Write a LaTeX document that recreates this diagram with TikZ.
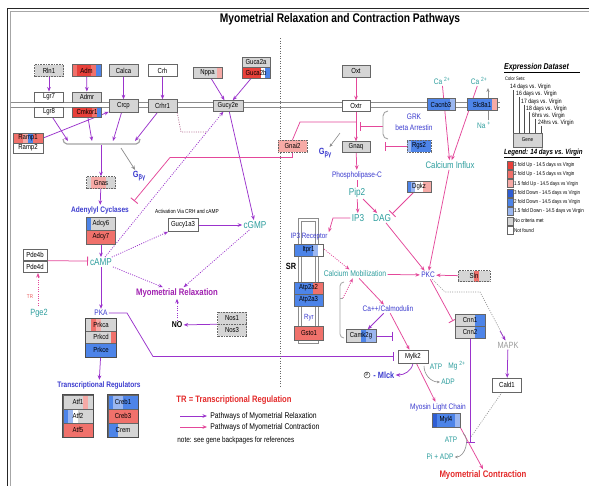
\documentclass[tikz,border=0pt]{standalone}
\usepackage{fontspec}
\setmainfont{Liberation Sans}[FakeStretch=0.82]
\usetikzlibrary{arrows.meta,calc}
\newcommand\fsz[1]{\fontsize{#1}{#1}\selectfont}
\pgfdeclarelayer{bg}
\pgfsetlayers{bg,main}
% pathway colours
\definecolor{cP}{HTML}{9B33CC}
\definecolor{cK}{HTML}{E4489A}
\definecolor{cT}{HTML}{2E9E9E}
\definecolor{cB}{HTML}{3C3CCF}
\definecolor{cR}{HTML}{E42A2A}
\definecolor{cV}{HTML}{A020B0}
\definecolor{Ln}{HTML}{8C8C8C}
% expression colours
\definecolor{Ra}{HTML}{E8403A}
\definecolor{Rb}{HTML}{F0716B}
\definecolor{Rc}{HTML}{F6AAA6}
\definecolor{Ba}{HTML}{2F5ED4}
\definecolor{Bb}{HTML}{4D84E8}
\definecolor{Bc}{HTML}{9BB7F0}
\definecolor{Gy}{HTML}{D5D5D5}
\tikzset{
  gene/.style={draw=black!60, line width=0.45pt, fill=white, minimum width=29pt,
    minimum height=12pt, inner sep=0pt, font=\fsz{7.3}},
  ncm/.style={fill=Gy},
  dotb/.style={dash pattern=on 0.9pt off 0.7pt},
  stripes/.style n args={6}{path picture={
      \path (path picture bounding box.south west) coordinate (pA)
            (path picture bounding box.north east) coordinate (pB);
      \foreach \c [count=\i from 0] in {#1,#2,#3,#4,#5,#6}
        \fill[\c] ($(pA)!\i/6!(pA-|pB)$) rectangle ($(pA|-pB)!{(\i+1)/6}!(pB)$);
  }},
  lab/.style={inner sep=1.2pt},
  tip/.style={-{Stealth[length=4.5pt,width=3.6pt]}},
  rel/.style={draw=cP, line width=0.75pt, tip},
  con/.style={draw=cK, line width=0.75pt, tip},
  tee/.style={-{Bar[width=9pt,line width=0.9pt]}},
  dotl/.style={dash pattern=on 1pt off 1.3pt},
  grp/.style={draw=black!70, line width=0.6pt},
  swatch/.style={draw=black!60, line width=0.4pt, minimum width=6pt, minimum height=8pt, inner sep=0pt},
  keytext/.style={inner sep=0pt, anchor=west, font=\fsz{5.5}},
}
\begin{document}
\begin{tikzpicture}[x=1pt,y=-1pt]
\useasboundingbox (0,0) rectangle (589,485);
\begin{pgfonlayer}{bg}
\fill[white] (0,0) rectangle (589,485);
\end{pgfonlayer}

% frame
\draw[black!85, line width=1.4pt] (7.5,486) -- (7.5,8.5) -- (590,8.5);
\draw[black!35, line width=0.6pt] (10.5,486) -- (10.5,11) -- (590,11);

\node[font=\fsz{12.5}\bfseries] (title) at (340,19) {Myometrial Relaxation and Contraction Pathways};

% membrane and divider
\draw[Ln, line width=0.8pt] (10.5,102.5) -- (500,102.5);
\draw[Ln, line width=0.8pt] (10.5,107.5) -- (500,107.5);
\draw[black!60, line width=0.6pt, dash pattern=on 1pt off 1.5pt] (280,38) -- (280,388);

% receptor bracket
\draw[Ln!80, line width=1.2pt] (63,139) to[out=-90,in=180] (67,144) -- (136,144) to[out=0,in=-90] (140,139);
\coordinate (k1) at (68,141);
\coordinate (k2) at (92,141);
\coordinate (k3) at (113,141);
\coordinate (k4) at (135,141);
\coordinate (kc) at (101,145);
\coordinate (kg) at (121,148);

% sarcoplasmic reticulum
\draw[Ln, line width=0.7pt, fill=white] (298,218) rectangle (318,343);
\draw[Ln, line width=0.5pt] (301,221) rectangle (315,340);

% braces
\draw[Ln!80, line width=0.9pt] (388,111) to[out=180,in=90] (383,116) -- (383,134) to[out=-90,in=180] (388,139);
\draw[Ln!80, line width=0.8pt] (344,282) to[out=180,in=90] (340,286) -- (340,334) to[out=-90,in=180] (344,338);
\draw[Ln!80, line width=0.8pt] (340,298) -- (343,298);
\coordinate (br) at (343,298);

% ---------- genes ----------
\node[gene,ncm,dotb] (Rln1) at (49,70.5) {Rln1};
\node[gene,stripes={Rb}{Ra}{Ra}{Ra}{Rb}{Bb}] (Adm) at (86.5,70.5) {Adm};
\node[gene,ncm] (Calca) at (123.5,70.5) {Calca};
\node[gene] (Crh) at (162.5,70.5) {Crh};
\node[gene,minimum height=10.5pt] (Lgr7) at (49,97) {Lgr7};
\node[gene,minimum height=10.5pt] (Lgr8) at (49,112) {Lgr8};
\node[gene,ncm,minimum height=10.5pt] (Admr) at (87,97) {Admr};
\node[gene,minimum height=10.5pt,stripes={Ra}{Ra}{Ra}{Ra}{Rb}{Bb}] (Cmkor1) at (87,112) {Cmkor1};
\node[gene,ncm,minimum height=13pt] (Crcp) at (123.5,106) {Crcp};
\node[gene,ncm,minimum height=13pt] (Crhr1) at (162.5,106) {Crhr1};
\node[gene,minimum width=30pt,minimum height=10pt,stripes={Rb}{Rb}{Rc}{Bb}{Rb}{Rb}] (Ramp1) at (28,138) {Ramp1};
\node[gene,minimum width=30pt,minimum height=10pt] (Ramp2) at (28,148) {Ramp2};
\node[gene,minimum height=11pt,stripes={Gy}{Gy}{Gy}{Gy}{Gy}{Rc}] (Nppa) at (207.5,72.5) {Nppa};
\node[gene,ncm,minimum width=28pt,minimum height=10.5pt] (Guca2a) at (256,62) {Guca2a};
\node[gene,minimum width=28pt,minimum height=10.5pt,stripes={Ra}{Ra}{Ra}{Ra}{white}{Bb}] (Guca2b) at (256,72.5) {Guca2b};
\node[gene,ncm,minimum width=30pt,minimum height=11pt] (Gucy2e) at (228,106) {Gucy2e};
\node[gene,ncm,minimum width=28pt] (Oxt) at (356,71) {Oxt};
\node[gene,minimum width=28pt,minimum height=11pt] (Oxtr) at (356,106) {Oxtr};
\node[gene,ncm,minimum width=28pt,minimum height=11pt] (Gnaq) at (356,147) {Gnaq};
\node[gene,dotb,fill=Rc] (Gnai2) at (292.5,146) {Gnai2};
\node[gene,minimum width=28pt,stripes={Bb}{Bb}{Bb}{Bb}{Bb}{Bc}] (Cacnb3) at (441,104.5) {Cacnb3};
\node[gene,minimum width=30pt,stripes={Bb}{Bb}{Bb}{Bb}{Bb}{Rc}] (Slc8a1) at (482,104.5) {Slc8a1};
\node[gene,dotb,minimum width=24pt,stripes={Bc}{Bb}{Bb}{Bb}{Bb}{Bb}] (Rgs2) at (419,146) {Rgs2};
\node[gene,minimum width=24pt,minimum height=11pt,stripes={Bb}{Bc}{white}{white}{Rc}{Rc}] (Dgkz) at (419,187) {Dgkz};
\node[gene,dotb,stripes={Gy}{Rc}{Rc}{Rc}{Gy}{Gy}] (Gnas) at (101,182.5) {Gnas};
\node[gene,minimum height=13pt,stripes={Bb}{Gy}{Gy}{Gy}{Gy}{Gy}] (Adcy6) at (101,223.5) {Adcy6};
\node[gene,minimum height=13.5pt,fill=Rb] (Adcy7) at (101,237) {Adcy7};
\node[gene,minimum width=30pt,minimum height=13pt] (Gucy1a3) at (183,225) {Gucy1a3};
\node[gene,minimum width=24pt,minimum height=11pt] (Pde4b) at (35,255) {Pde4b};
\node[gene,minimum width=24pt,minimum height=11pt] (Pde4d) at (35,266.5) {Pde4d};
\node[gene,stripes={Bb}{Bb}{Bb}{Bb}{Bc}{white}] (Itpr1) at (308.5,250) {Itpr1};
\node[gene,stripes={Bb}{Bb}{Bb}{Bb}{Rb}{Rb}] (Atp2a2) at (308.5,288) {Atp2a2};
\node[gene,fill=Bb] (Atp2a3) at (308.5,300) {Atp2a3};
\node[gene,minimum height=13.5pt,fill=Rb] (Gsto1) at (309,333) {Gsto1};
\node[gene,minimum width=30pt,minimum height=13pt,stripes={Gy}{Gy}{Gy}{Bb}{Bc}{Bc}] (Camk2g) at (361,336) {Camk2g};
\node[gene,dotb,minimum width=32pt,minimum height=11pt,stripes={Gy}{Gy}{Gy}{Rb}{Gy}{Gy}] (Sln) at (474,276) {Sln};
\node[gene,minimum width=30pt,stripes={Gy}{Gy}{Gy}{Gy}{Bb}{Bb}] (Cnn1) at (470,320) {Cnn1};
\node[gene,minimum width=30pt,stripes={Gy}{Gy}{Gy}{Gy}{Bb}{Bb}] (Cnn2) at (470,332) {Cnn2};
\node[gene,minimum width=30pt,minimum height=13pt] (Mylk2) at (413,356.5) {Mylk2};
\node[gene,minimum height=14pt] (Cald1) at (507,385) {Cald1};
\node[gene,minimum width=28pt,minimum height=14pt,stripes={Ba}{Bb}{Bb}{Bb}{Bb}{Bc}] (Myl4) at (446,420) {Myl4};
\node[gene,ncm,dotb] (Nos1) at (232,318) {Nos1};
\node[gene,ncm,dotb] (Nos3) at (232,330) {Nos3};
\node[gene,minimum width=31pt,minimum height=12.5pt,stripes={Gy}{Rb}{Rc}{Gy}{Gy}{Gy}] (Prkca) at (101,324.5) {Prkca};
\node[gene,minimum width=31pt,minimum height=12.5pt,stripes={Gy}{Gy}{Gy}{Gy}{Gy}{Rb}] (Prkcd) at (101,337) {Prkcd};
\node[gene,minimum width=31pt,minimum height=13.5pt,fill=Bb] (Prkce) at (101,350) {Prkce};
\draw[grp] (Prkca.north west) rectangle (Prkce.south east);
\node[gene,minimum width=30pt,minimum height=14pt,stripes={Gy}{Gy}{Gy}{Gy}{Rc}{Gy}] (Atf1) at (78,402) {Atf1};
\node[gene,minimum width=30pt,minimum height=14pt,stripes={Bb}{Bc}{white}{Gy}{Gy}{Gy}] (Atf2) at (78,416) {Atf2};
\node[gene,minimum width=30pt,minimum height=14pt,fill=Rb] (Atf5) at (78,430) {Atf5};
\draw[grp] (Atf1.north west) rectangle (Atf5.south east);
\node[gene,minimum width=30pt,minimum height=14pt,stripes={Bb}{Bc}{Bc}{Bb}{Bb}{Bb}] (Creb1) at (123,402) {Creb1};
\node[gene,minimum width=30pt,minimum height=14pt,fill=Rb] (Creb3) at (123,416) {Creb3};
\node[gene,minimum width=30pt,minimum height=14pt,stripes={Bb}{Bb}{Gy}{Gy}{Gy}{Gy}] (Crem) at (123,430) {Crem};
\draw[grp] (Creb1.north west) rectangle (Crem.south east);

% ---------- labels ----------
\node[lab,text=cB,font=\fsz{9}\bfseries] (Gby1) at (139,176) {G\raisebox{-1.5pt}{\fsz{7}βγ}};
\node[lab,text=cB,font=\fsz{9}\bfseries] (Gby2) at (325,153) {G\raisebox{-1.5pt}{\fsz{7}βγ}};
\node[lab,text=cB,font=\fsz{8}\bfseries] (AC) at (100,210) {Adenylyl Cyclases};
\node[lab,font=\fsz{5.8}] (actv) at (187,211) {Activation Via CRH and cAMP};
\node[lab,text=cT,font=\fsz{10}] (cAMP) at (101,262) {cAMP};
\node[lab,text=cT,font=\fsz{10}] (cGMP) at (255,225) {cGMP};
\node[lab,text=cR!80,font=\fsz{5.5}] (TRs) at (30,297) {TR};
\node[lab,text=cT,font=\fsz{9}] (Pge2) at (39,313) {Pge2};
\node[lab,text=cV,font=\fsz{9.4}\bfseries] (MyoR) at (177,293) {Myometrial Relaxation};
\node[lab,font=\fsz{8.5}\bfseries] (NO) at (177,325) {NO};
\node[lab,text=cB,font=\fsz{8}] (PKA) at (101,313) {PKA};
\node[lab,text=cB,font=\fsz{8}\bfseries] (TRg) at (99,385) {Transcriptional Regulators};
\node[lab,text=cT,font=\fsz{8}] (Ca1) at (442,81) {Ca \textsuperscript{2+}};
\node[lab,text=cT,font=\fsz{8}] (Ca2) at (479,81) {Ca \textsuperscript{2+}};
\node[lab,text=cT,font=\fsz{8}] (Na) at (484,125) {Na \textsuperscript{+}};
\node[lab,text=cB,font=\fontsize{8}{10.5}\selectfont,align=center] (GRK) at (414,122) {GRK\\beta Arrestin};
\node[lab,text=cT,font=\fsz{9.5}] (CaIn) at (450,165) {Calcium Influx};
\node[lab,text=cB,font=\fsz{8}] (PLC) at (357,175) {Phospholipase-C};
\node[lab,text=cT,font=\fsz{10}] (Pip2) at (357,193) {Pip2};
\node[lab,text=cT,font=\fsz{10}] (IP3) at (358,218) {IP3};
\node[lab,text=cT,font=\fsz{10}] (DAG) at (382,218) {DAG};
\node[lab,text=cB,font=\fsz{7.7}] (IP3R) at (309,237) {IP3 Receptor};
\node[lab,font=\fsz{9}\bfseries] (SR) at (291,266) {SR};
\node[lab,text=cB,font=\fsz{7.5}] (Ryr) at (309,318) {Ryr};
\node[lab,text=cT,font=\fsz{8.3}] (CaMob) at (355,274) {Calcium Mobilization};
\node[lab,text=cB,font=\fsz{8}] (CaM) at (388,309) {Ca++/Calmodulin};
\node[lab,text=cB,font=\fsz{8}] (PKC) at (428,275) {PKC};
\node[lab,text=black!40,font=\fsz{9}] (MAPK) at (508,345) {MAPK};
\node[lab,text=cT,font=\fsz{8}] (ATP1) at (436,367) {ATP};
\node[lab,text=cT,font=\fsz{8}] (Mg) at (457,366) {Mg \textsuperscript{2+}};
\node[lab,text=cT,font=\fsz{8}] (ADP) at (448,382) {ADP};
\node[lab,text=cB,font=\fsz{8}] (MLC) at (438,407) {Myosin Light Chain};
\node[lab,text=cT,font=\fsz{8}] (ATP2) at (451,440) {ATP};
\node[lab,text=cT,font=\fsz{8}] (PiADP) at (440,457) {Pi + ADP};
\node[lab,text=cR,font=\fsz{9.5}\bfseries] (MyoC) at (483,475) {Myometrial Contraction};
\node[circle,draw=black!70,line width=0.5pt,inner sep=0.6pt,font=\fsz{5}] (Pc) at (367,375) {P};
\node[lab,text=cB,font=\fsz{9}\bfseries,anchor=west] (Mlck) at (372,375) {- Mlck};

% ---------- connectors ----------
\begin{pgfonlayer}{bg}
% relaxation (purple)
\draw[rel] (Rln1) -- (Lgr7);
\draw[rel] (Adm) -- (Admr);
\draw[rel] (Calca) -- (Crcp);
\draw[rel] (Crh) -- (Crhr1);
\draw[rel] (Lgr8) -- (k1);
\draw[rel] (Cmkor1) -- (k2);
\draw[rel] (Crcp) -- (k3);
\draw[rel] (Crhr1) -- (k4);
\draw[rel] (Ramp1.east) -- (Crcp);
\draw[rel] (kc) -- (Gnas);
\draw[Ln, line width=0.7pt, tip] (kg) -- (Gby1);
\draw[rel] (Gnas) -- (AC);
\draw[rel] (Adcy7) -- (cAMP);
\draw[rel] (cAMP) -- (PKA);
\draw[rel] (Prkce) -- (TRg);
\draw[rel] (Nppa) -- (Gucy2e);
\draw[rel] (Guca2b) -- (Gucy2e);
\draw[rel] (Gucy2e) -- (cGMP);
\draw[rel] (Gucy1a3) -- (cGMP);
\draw[rel] (Nos1.south west) -- (NO);
\draw[rel] (MAPK) -- (Cald1);
\draw[rel] (CaM) -- (Camk2g);
\draw[rel] (Mylk2.south) to[out=-100,in=0] (Mlck.east);
\coordinate (tA) at (393,336);
\coordinate (tB) at (394,356.5);
\coordinate (tC) at (470,443);
\draw[cP, line width=0.75pt, tee] (Camk2g) -- (tA);
\draw[cP, line width=0.75pt, tee] (PKA.east) -- (127,313) -- (153,356.5) -- (tB);
\draw[cP, line width=0.75pt, tee] (Cnn2) -- (tC);
\draw[rel, dotl] (cAMP) -- (Gucy2e);
\draw[rel, dotl] (cAMP) -- (Gucy1a3);
\draw[rel, dotl] (cAMP) -- (MyoR);
\draw[rel, dotl] (cGMP) -- (MyoR);
\draw[rel, dotl] (NO) -- (MyoR);
\draw[cK!45!Ln, line width=0.7pt, dotl] (Crhr1.south east) -- (181,132) -- (206,132);

% contraction (pink)
\draw[con] (Oxt) -- (Oxtr);
\draw[con] (Oxtr) -- (Gnaq);
\draw[cK, line width=0.75pt] (356,122) -- (300,122) -- (Gnai2.north);
\coordinate (tD) at (134,201);
\draw[cK, line width=0.75pt, tee] (Gnai2.south) -- (292.5,157.5) -- (170,157.5) -- (tD);
\coordinate (gk) at (383,126);
\coordinate (tE) at (360,126);
\draw[cK, line width=0.75pt, tee] (gk) -- (tE);
\coordinate (tF) at (385,146);
\draw[cK, line width=0.75pt, tee] (Rgs2) -- (tF);
\coordinate (gq) at (340,133);
\draw[Ln, line width=0.6pt, -{Stealth[length=3.5pt,width=3pt]}] (gq) -- (Gby2);
\draw[con] (Gnaq) -- (PLC);
\draw[cK, line width=0.75pt] (PLC) -- (Pip2);
\draw[con] (Pip2) -- (IP3);
\draw[con] (Pip2) -- (DAG);
\draw[con] (IP3.west) -- (333,218) -- (IP3R.north east);
\draw[con, dotl] (IP3R) -- (CaMob);
\draw[con, dotl] (br) -- (CaMob);
\draw[con] (CaMob) -- (PKC);
\draw[con] (Sln) -- (PKC);
\draw[con] (DAG) -- (PKC);
\draw[con] (CaIn) -- (PKC);
\draw[cK, line width=0.75pt, tee] (Dgkz) -- (392,214);
\draw[con] (Ca1) -- (CaIn);
\draw[con] (Ca2) -- (CaIn);
\coordinate (na2) at (488,88);
\draw[Ln, line width=0.7pt, -{Stealth[length=4pt,width=3.2pt]}] (Na.north -| na2) -- (na2);
\draw[con] (CaMob) -- (CaM);
\draw[con] (CaM) -- (Mylk2);
\draw[con] (Mylk2) -- (MLC);
\draw[con] (Myl4.south east) -- (MyoC.north);
\coordinate (tG) at (453,321);
\draw[cK, line width=0.75pt, tee] (PKC) -- (tG);
\draw[black!40, line width=0.7pt, dotl] (PKC) -- (445,292) -- (480,292) -- (MAPK);
\draw[cP, line width=0.7pt, -{Stealth[length=4.5pt,width=3.6pt]}] (500,331) -- (MAPK);
\coordinate (cx) at (471,437);
\draw[black!40, line width=0.7pt, dotl] (Cald1) -- (cx);
\draw[cK, line width=0.75pt, dotl, tip] (38,306) -- (38,273);
\coordinate (tH) at (88,261);
\draw[cK, line width=0.75pt, tee] (Pde4b.south east) -- (tH);
% energy side reactions
\draw[Ln, line width=0.6pt, -{Stealth[length=3pt,width=2.6pt]}] (424,366) to[out=-90,in=180] (ADP.west);
\draw[Ln, line width=0.6pt, -{Stealth[length=3pt,width=2.6pt]}] (463,433) to[out=-40,in=0] (PiADP.east);
\end{pgfonlayer}

% ---------- key ----------
\coordinate (la1) at (180,416);
\coordinate (la2) at (207,416);
\coordinate (lb1) at (180,427);
\coordinate (lb2) at (207,427);
\draw[rel] (la1) -- (la2);
\draw[con] (lb1) -- (lb2);
\node[lab,text=cR,font=\fsz{9.3}\bfseries] (TRkey) at (234,400) {TR = Transcriptional Regulation};
\node[lab,anchor=west,font=\fsz{8.3}] (kR) at (209,416) {Pathways of Myometrial Relaxation};
\node[lab,anchor=west,font=\fsz{8.3}] (kC) at (209,427) {Pathways of Myometrial Contraction};
\node[lab,anchor=west,font=\fsz{7.8}] (note) at (176,440) {note: see gene backpages for references};

% expression legend
\node[inner sep=0pt,anchor=west,font=\fsz{8.5}\bfseries\itshape] (ExpD) at (504,67) {Expression Dataset};
\draw[black, line width=0.6pt] (504,72.5) -- (580,72.5);
\node[inner sep=0pt,anchor=west,font=\fsz{5}] (csets) at (505,79) {Color Sets:};
\node[gene,ncm,minimum height=14pt,font=\fsz{5.5}] (GeneKey) at (527.5,140) {Gene};
\foreach \xx/\yy/\tt [count=\k] in {513/87/14 days vs. Virgin, 519/94/16 days vs. Virgin,
    524/101.5/17 days vs. Virgin, 529/108.5/18 days vs. Virgin, 535/115.5/6hrs vs. Virgin,
    541/122.5/24hrs vs. Virgin}{
  \node[inner sep=0pt,anchor=west,font=\fsz{6.2}] (set\k) at (\xx-3,\yy) {\tt};
  \draw[black!70, line width=0.4pt] (\xx,\yy+3) -- (\xx,133);
}
\node[inner sep=0pt,anchor=west,font=\fsz{7.5}\bfseries\itshape] (LegT) at (504,153) {Legend: 14 days vs. Virgin};
\draw[black, line width=0.6pt] (504,157.5) -- (580,157.5);
\foreach \cc/\tt [count=\k from 0] in {Ra/3 fold Up - 14.5 days vs Virgin, Rb/2 fold Up - 14.5 days vs Virgin,
    Rc/1.5 fold Up - 14.5 days vs Virgin, Ba/3 fold Down - 14.5 days vs Virgin,
    Bb/2 fold Down - 14.5 days vs Virgin, Bc/1.5 fold Down - 14.5 days vs Virgin,
    Gy/No criteria met, white/Not found}{
  \node[swatch,fill=\cc] (sw\k) at (510,165+9.3*\k) {};
  \node[keytext] (st\k) at (514,165+9.3*\k) {\tt};
}
\end{tikzpicture}
\end{document}
